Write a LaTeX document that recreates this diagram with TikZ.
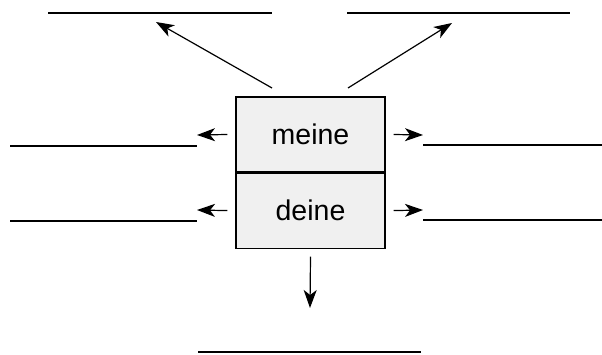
\documentclass[tikz,border=0pt]{standalone}
\usepackage{fontspec}
\setmainfont{Liberation Sans}
\usetikzlibrary{arrows.meta}
\begin{document}
\begin{tikzpicture}[x=1pt,y=-1pt,
  cell/.style={draw, line width=1.1pt, fill=gray!12, minimum width=149pt, minimum height=75pt, inner sep=0pt, font=\fontsize{28.5}{32}\selectfont},
  blank/.style={line width=1.3pt},
  arr/.style={line width=1.2pt, -{Stealth[length=18pt,width=13pt,inset=5pt]}}]
\useasboundingbox (0,0) rectangle (602,355);
\node[cell] (meine) at (310.5,134.5) {meine};
\node[cell, anchor=north] (deine) at (meine.south) {deine};
% answer lines
\draw[blank] (48,13) -- (272,13);
\draw[blank] (347,13) -- (570,13);
\draw[blank] (10,146) -- (197,146);
\draw[blank] (10,221) -- (197,221);
\draw[blank] (423,145) -- (602,145);
\draw[blank] (423,220) -- (602,220);
\draw[blank] (198,352) -- (421,352);
% arrows
\coordinate (tl) at (156,22);
\coordinate (tr) at (452,23);
\coordinate (ml) at (197,135);
\coordinate (dl) at (197,210);
\coordinate (mr) at (423,135);
\coordinate (dr) at (423,210);
\coordinate (bt) at (310,308);
\draw[arr] (272,88) -- (tl);
\draw[arr] (348,88) -- (tr);
\draw[arr] ([xshift=-8pt]meine.west) -- (ml);
\draw[arr] ([xshift=-8pt]deine.west) -- (dl);
\draw[arr] ([xshift=8pt]meine.east) -- (mr);
\draw[arr] ([xshift=8pt]deine.east) -- (dr);
\draw[arr] ([yshift=-8pt]deine.south) -- (bt);
\end{tikzpicture}
\end{document}
